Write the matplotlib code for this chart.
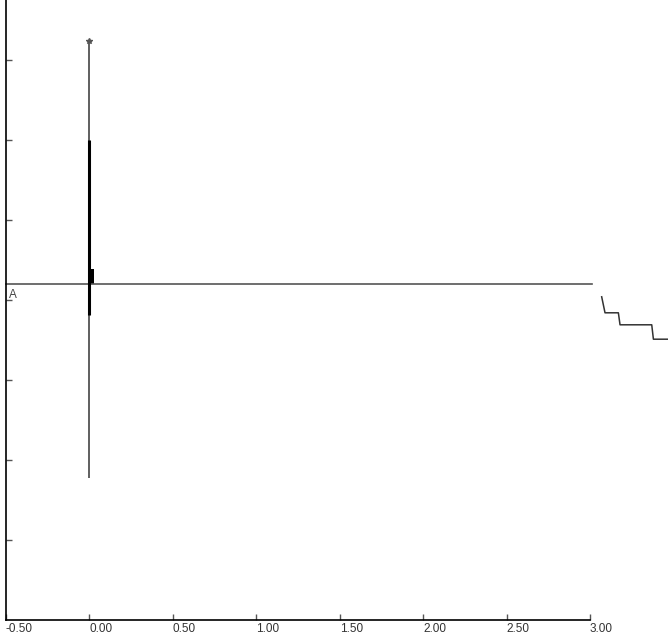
import numpy as np
import matplotlib.pyplot as plt

plt.rcParams['font.family'] = ['Liberation Sans', 'DejaVu Sans']

# x ticks (ppm-like scale)
xticks = [-0.50, 0.00, 0.50, 1.00, 1.50, 2.00, 2.50, 3.00]
yticks = [1, 2, 3, 4, 5, 6, 7]

# baseline
base_y = 4.2
base_x = [-0.5, 3.01]

# peak at 0.00
peak_x = 0.0
thin_lo, thin_hi = 1.775, 7.21
thick_lo, thick_hi = 3.81, 6.0
block_w, block_top = 0.03, 4.39
star_y = 7.24

# integral trace at right
integral_x = [3.07, 3.09, 3.17, 3.18, 3.37, 3.38, 3.47]
integral_y = [4.04, 3.84, 3.84, 3.69, 3.69, 3.51, 3.51]

fig = plt.figure(figsize=(6.68, 6.35), dpi=100)
ax = fig.add_axes([6/668, 15/635, 584/668, 620/635])
ax.set_xlim(-0.5, 3.0)
ax.set_ylim(0, 7.75)

ax.plot(base_x, [base_y, base_y], color='#555555', lw=1.2, clip_on=False)
ax.vlines(peak_x, thin_lo, thin_hi, color='#444444', lw=1.2)
ax.vlines(peak_x, thick_lo, thick_hi, color='black', lw=2.2)
ax.bar(peak_x, block_top - base_y, bottom=base_y, width=block_w, align='edge',
       color='black', lw=0)
ax.plot([peak_x], [star_y], marker='*', ms=4, color='#555555')
ax.plot(integral_x, integral_y, color='#333333', lw=1.1, clip_on=False)

ax.text(-0.485, base_y - 0.06, 'A', fontsize=8.5, color='#444444', va='top', ha='left')

for s in ['top', 'right']:
    ax.spines[s].set_visible(False)
ax.spines['left'].set_linewidth(1.2)
ax.spines['bottom'].set_linewidth(1.2)

ax.set_xticks(xticks)
ax.set_xticklabels(['%.2f' % v for v in xticks], fontsize=8.5, color='#333333')
plt.setp(ax.get_xticklabels(), ha='left')
ax.set_yticks(yticks)
ax.set_yticklabels([])
ax.tick_params(axis='both', direction='in', length=4, width=1, color='#555555', pad=2)

fig.savefig('out.png', dpi=100)
